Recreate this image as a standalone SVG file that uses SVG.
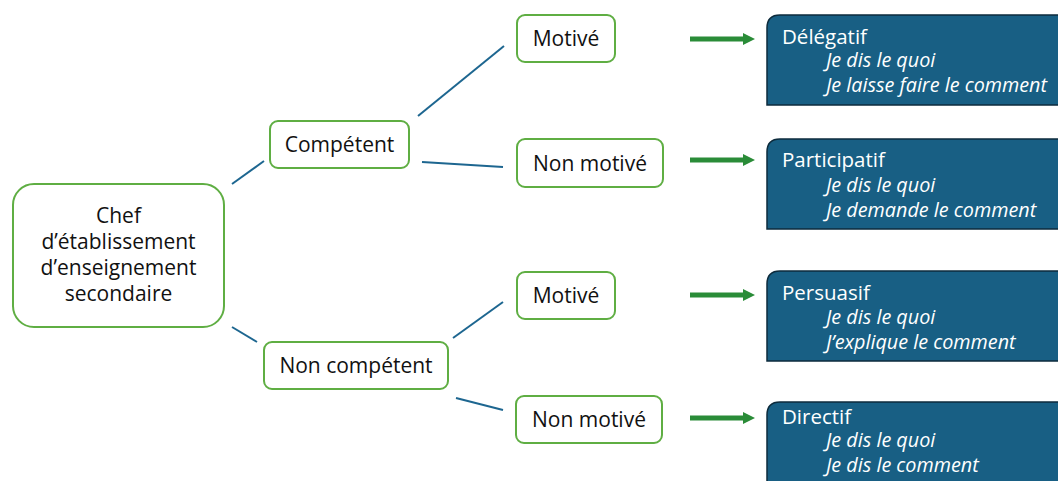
<svg xmlns="http://www.w3.org/2000/svg" width="1058" height="481" viewBox="0 0 1058 481">
  <style>
    .node { fill: #ffffff; stroke: #5fae43; stroke-width: 2; }
    .lbl { font-family: "Open Sans", "Liberation Sans", sans-serif; font-size: 21px; fill: #111111; text-anchor: middle; }
    .style-box { fill: #185f84; stroke: #0d2b3c; stroke-width: 1.5; }
    .title { font-family: "Open Sans", "Liberation Sans", sans-serif; font-size: 20.5px; fill: #ffffff; }
    .sub { font-family: "Open Sans", "Liberation Sans", sans-serif; font-size: 19.8px; font-style: italic; fill: #ffffff; }
    .link { stroke: #1d6690; stroke-width: 2; fill: none; }
    .arrow { stroke: #2a8c38; stroke-width: 5; fill: none; marker-end: url(#head); }
  </style>
  <defs>
    <marker id="head" markerUnits="userSpaceOnUse" markerWidth="14" markerHeight="14" refX="2" refY="6" orient="auto">
      <path d="M0,0 L12,6 L0,12 Z" fill="#2a8c38"/>
    </marker>
  </defs>

  <!-- connectors -->
  <g id="connectors">
    <line class="link" x1="232" y1="184" x2="264" y2="161"/>
    <line class="link" x1="232" y1="327" x2="257" y2="342"/>
    <line class="link" x1="418" y1="116" x2="504" y2="46"/>
    <line class="link" x1="422" y1="162" x2="503" y2="167"/>
    <line class="link" x1="453" y1="338" x2="503" y2="302"/>
    <line class="link" x1="456" y1="398" x2="503" y2="410"/>
    <line class="arrow" x1="690" y1="39" x2="745" y2="39"/>
    <line class="arrow" x1="690" y1="160" x2="745" y2="160"/>
    <line class="arrow" x1="690" y1="295" x2="745" y2="295"/>
    <line class="arrow" x1="690" y1="418" x2="745" y2="418"/>
  </g>

  <!-- root -->
  <g id="root">
    <rect class="node" x="13" y="184" width="211" height="143" rx="21"/>
    <text class="lbl" x="118.5" y="223">Chef</text>
    <text class="lbl" x="118.5" y="249">d’établissement</text>
    <text class="lbl" x="118.5" y="275">d’enseignement</text>
    <text class="lbl" x="118.5" y="301">secondaire</text>
  </g>

  <!-- level 1 -->
  <g id="competent">
    <rect class="node" x="270" y="121" width="139" height="47" rx="8"/>
    <text class="lbl" x="339.5" y="152">Compétent</text>
  </g>
  <g id="non-competent">
    <rect class="node" x="264" y="342" width="184" height="47" rx="8"/>
    <text class="lbl" x="356" y="373">Non compétent</text>
  </g>

  <!-- level 2 -->
  <g id="motive-1">
    <rect class="node" x="517" y="15" width="98" height="47" rx="8"/>
    <text class="lbl" x="566" y="46">Motivé</text>
  </g>
  <g id="non-motive-1">
    <rect class="node" x="517" y="139" width="146" height="48" rx="8"/>
    <text class="lbl" x="590" y="171">Non motivé</text>
  </g>
  <g id="motive-2">
    <rect class="node" x="517" y="272" width="98" height="47" rx="8"/>
    <text class="lbl" x="566" y="303">Motivé</text>
  </g>
  <g id="non-motive-2">
    <rect class="node" x="516" y="396" width="146" height="47" rx="8"/>
    <text class="lbl" x="589" y="427">Non motivé</text>
  </g>

  <!-- leadership styles -->
  <g id="delegatif">
    <path class="style-box" d="M767,105 V28 Q767,15 780,15 H1070 V105 Z"/>
    <text class="title" x="782" y="44">Délégatif</text>
    <text class="sub" x="826" y="67">Je dis le quoi</text>
    <text class="sub" x="826" y="92">Je laisse faire le comment</text>
  </g>
  <g id="participatif">
    <path class="style-box" d="M767,229 V152 Q767,139 780,139 H1070 V229 Z"/>
    <text class="title" x="782" y="167">Participatif</text>
    <text class="sub" x="826" y="192">Je dis le quoi</text>
    <text class="sub" x="826" y="217">Je demande le comment</text>
  </g>
  <g id="persuasif">
    <path class="style-box" d="M767,361 V284 Q767,271 780,271 H1070 V361 Z"/>
    <text class="title" x="782" y="300">Persuasif</text>
    <text class="sub" x="826" y="324">Je dis le quoi</text>
    <text class="sub" x="826" y="349">J’explique le comment</text>
  </g>
  <g id="directif">
    <path class="style-box" d="M767,495 V415 Q767,402 780,402 H1070 V495 Z"/>
    <text class="title" x="782" y="424">Directif</text>
    <text class="sub" x="826" y="447">Je dis le quoi</text>
    <text class="sub" x="826" y="472">Je dis le comment</text>
  </g>
</svg>
